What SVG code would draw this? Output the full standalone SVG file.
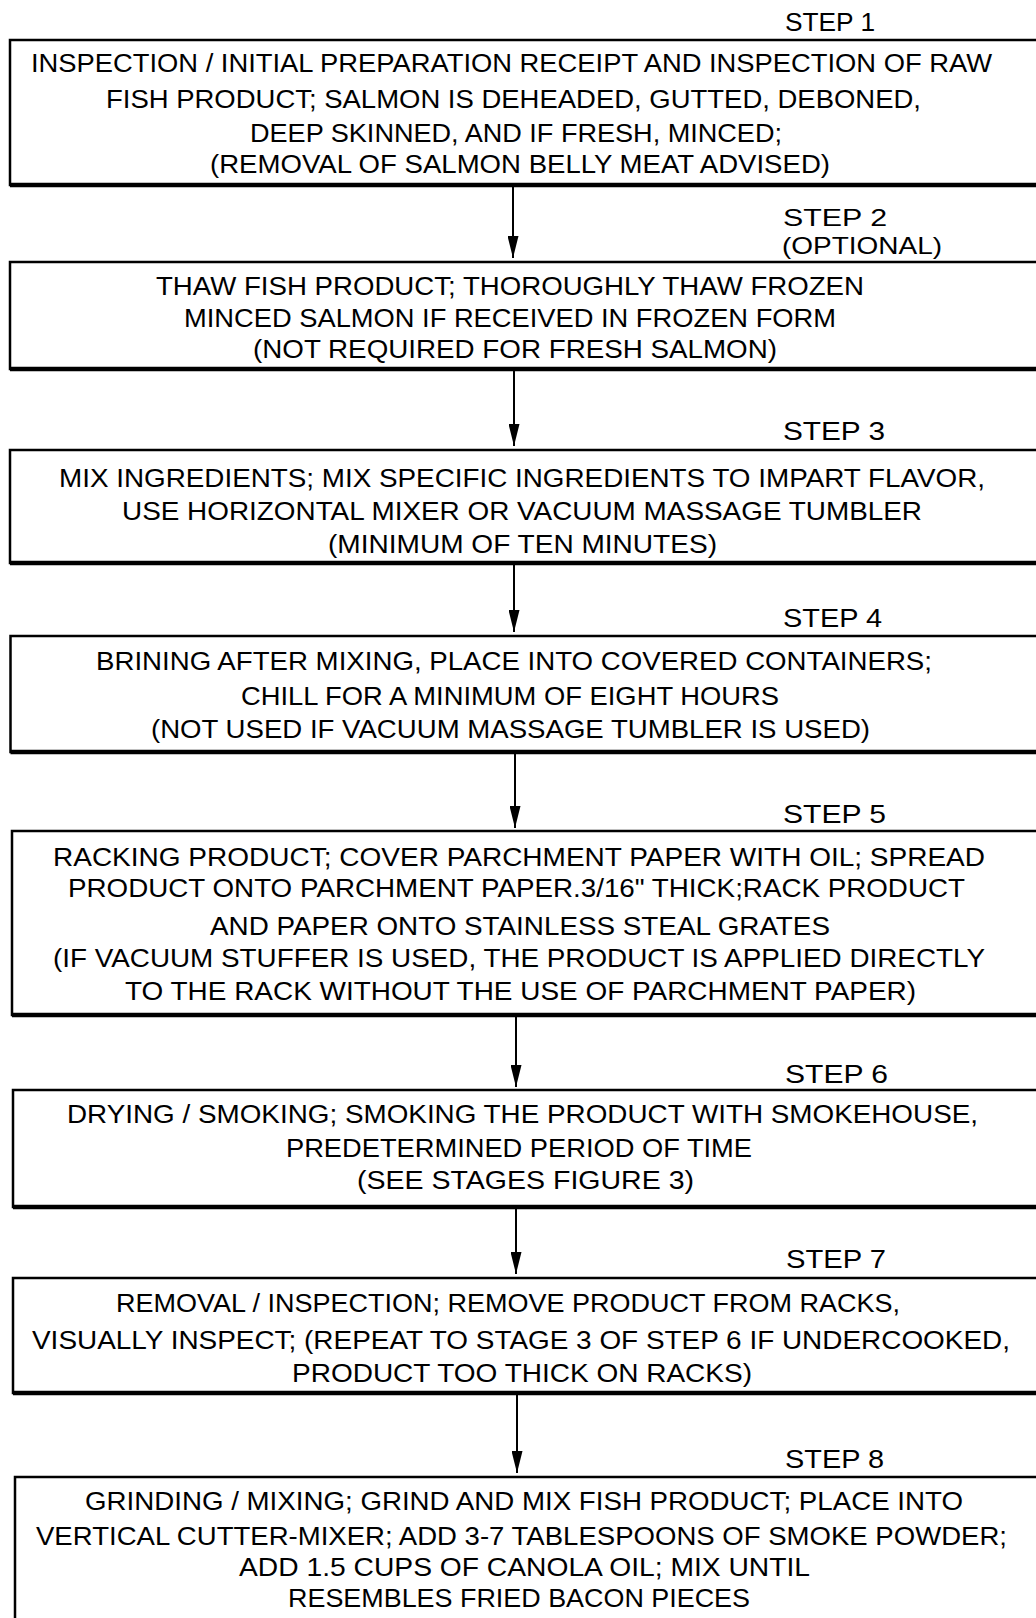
<svg xmlns="http://www.w3.org/2000/svg" width="1036" height="1618" viewBox="0 0 1036 1618">
<style>
.bg{fill:#fff}
.box{fill:#fff;stroke:#000;stroke-width:2.5}
.base{stroke:#000;stroke-width:4.5;fill:none}
.t{font-family:"Liberation Sans",Arial,sans-serif;font-size:25px;fill:#000}
.s{font-family:"Liberation Sans",Arial,sans-serif;font-size:25px;fill:#000}
.s2{font-family:"Liberation Sans",Arial,sans-serif;font-size:24px;fill:#000}
.c{stroke:#000;stroke-width:2;fill:none;marker-end:url(#ah)}
</style>
<defs>
<marker id="ah" viewBox="0 0 22 11" refX="22" refY="5.5" markerWidth="22" markerHeight="11" markerUnits="userSpaceOnUse" orient="auto">
<path d="M0,0 L22,5.5 L0,11 Z" fill="#000"/>
</marker>
</defs>
<rect class="bg" x="0" y="0" width="1036" height="1618"/>

<g id="connectors">
<line class="c" x1="513" y1="187" x2="513" y2="258"/>
<line class="c" x1="514" y1="371" x2="514" y2="446"/>
<line class="c" x1="514" y1="565" x2="514" y2="632"/>
<line class="c" x1="515" y1="754" x2="515" y2="828"/>
<line class="c" x1="516" y1="1017" x2="516" y2="1087"/>
<line class="c" x1="516" y1="1209" x2="516" y2="1274"/>
<line class="c" x1="517" y1="1394" x2="517" y2="1473"/>
</g>

<g id="step1">
<text class="s" x="785" y="31" textLength="90" lengthAdjust="spacingAndGlyphs">STEP 1</text>
<rect class="box" x="10" y="40" width="1040" height="145"/>
<line class="base" x1="10" y1="185" x2="1040" y2="185"/>
<text class="t" x="31" y="72" textLength="961" lengthAdjust="spacingAndGlyphs">INSPECTION / INITIAL PREPARATION RECEIPT AND INSPECTION OF RAW</text>
<text class="t" x="106" y="108" textLength="815" lengthAdjust="spacingAndGlyphs">FISH PRODUCT; SALMON IS DEHEADED, GUTTED, DEBONED,</text>
<text class="t" x="250" y="142" textLength="532" lengthAdjust="spacingAndGlyphs">DEEP SKINNED, AND IF FRESH, MINCED;</text>
<text class="t" x="210" y="173" textLength="620" lengthAdjust="spacingAndGlyphs">(REMOVAL OF SALMON BELLY MEAT ADVISED)</text>
</g>

<g id="step2">
<text class="s2" x="783" y="226" textLength="104" lengthAdjust="spacingAndGlyphs">STEP 2</text>
<text class="s2" x="782" y="254" textLength="160" lengthAdjust="spacingAndGlyphs">(OPTIONAL)</text>
<rect class="box" x="10" y="262" width="1040" height="107"/>
<line class="base" x1="10" y1="369" x2="1040" y2="369"/>
<text class="t" x="156" y="295" textLength="708" lengthAdjust="spacingAndGlyphs">THAW FISH PRODUCT; THOROUGHLY THAW FROZEN</text>
<text class="t" x="184" y="327" textLength="652" lengthAdjust="spacingAndGlyphs">MINCED SALMON IF RECEIVED IN FROZEN FORM</text>
<text class="t" x="253" y="358" textLength="524" lengthAdjust="spacingAndGlyphs">(NOT REQUIRED FOR FRESH SALMON)</text>
</g>

<g id="step3">
<text class="s" x="783" y="440" textLength="102" lengthAdjust="spacingAndGlyphs">STEP 3</text>
<rect class="box" x="10" y="450" width="1040" height="113"/>
<line class="base" x1="10" y1="563" x2="1040" y2="563"/>
<text class="t" x="59" y="487" textLength="926" lengthAdjust="spacingAndGlyphs">MIX INGREDIENTS; MIX SPECIFIC INGREDIENTS TO IMPART FLAVOR,</text>
<text class="t" x="122" y="520" textLength="800" lengthAdjust="spacingAndGlyphs">USE HORIZONTAL MIXER OR VACUUM MASSAGE TUMBLER</text>
<text class="t" x="328" y="553" textLength="389" lengthAdjust="spacingAndGlyphs">(MINIMUM OF TEN MINUTES)</text>
</g>

<g id="step4">
<text class="s" x="783" y="627" textLength="99" lengthAdjust="spacingAndGlyphs">STEP 4</text>
<rect class="box" x="10.5" y="636" width="1040" height="116"/>
<line class="base" x1="10.5" y1="752" x2="1040" y2="752"/>
<text class="t" x="96" y="670" textLength="836" lengthAdjust="spacingAndGlyphs">BRINING AFTER MIXING, PLACE INTO COVERED CONTAINERS;</text>
<text class="t" x="241" y="705" textLength="538" lengthAdjust="spacingAndGlyphs">CHILL FOR A MINIMUM OF EIGHT HOURS</text>
<text class="t" x="151" y="738" textLength="719" lengthAdjust="spacingAndGlyphs">(NOT USED IF VACUUM MASSAGE TUMBLER IS USED)</text>
</g>

<g id="step5">
<text class="s" x="783" y="823" textLength="103" lengthAdjust="spacingAndGlyphs">STEP 5</text>
<rect class="box" x="12" y="831" width="1040" height="184"/>
<line class="base" x1="12" y1="1015" x2="1040" y2="1015"/>
<text class="t" x="53" y="866" textLength="932" lengthAdjust="spacingAndGlyphs">RACKING PRODUCT; COVER PARCHMENT PAPER WITH OIL; SPREAD</text>
<text class="t" x="68" y="897" textLength="897" lengthAdjust="spacingAndGlyphs">PRODUCT ONTO PARCHMENT PAPER.3/16" THICK;RACK PRODUCT</text>
<text class="t" x="210" y="935" textLength="620" lengthAdjust="spacingAndGlyphs">AND PAPER ONTO STAINLESS STEAL GRATES</text>
<text class="t" x="53" y="967" textLength="932" lengthAdjust="spacingAndGlyphs">(IF VACUUM STUFFER IS USED, THE PRODUCT IS APPLIED DIRECTLY</text>
<text class="t" x="125" y="1000" textLength="791" lengthAdjust="spacingAndGlyphs">TO THE RACK WITHOUT THE USE OF PARCHMENT PAPER)</text>
</g>

<g id="step6">
<text class="s" x="785" y="1083" textLength="103" lengthAdjust="spacingAndGlyphs">STEP 6</text>
<rect class="box" x="13" y="1090" width="1040" height="117"/>
<line class="base" x1="13" y1="1207" x2="1040" y2="1207"/>
<text class="t" x="67" y="1123" textLength="911" lengthAdjust="spacingAndGlyphs">DRYING / SMOKING; SMOKING THE PRODUCT WITH SMOKEHOUSE,</text>
<text class="t" x="286" y="1157" textLength="466" lengthAdjust="spacingAndGlyphs">PREDETERMINED PERIOD OF TIME</text>
<text class="t" x="357" y="1189" textLength="337" lengthAdjust="spacingAndGlyphs">(SEE STAGES FIGURE 3)</text>
</g>

<g id="step7">
<text class="s" x="786" y="1268" textLength="100" lengthAdjust="spacingAndGlyphs">STEP 7</text>
<rect class="box" x="13" y="1278" width="1040" height="115"/>
<line class="base" x1="13" y1="1393" x2="1040" y2="1393"/>
<text class="t" x="116" y="1312" textLength="784" lengthAdjust="spacingAndGlyphs">REMOVAL / INSPECTION; REMOVE PRODUCT FROM RACKS,</text>
<text class="t" x="32" y="1349" textLength="978" lengthAdjust="spacingAndGlyphs">VISUALLY INSPECT; (REPEAT TO STAGE 3 OF STEP 6 IF UNDERCOOKED,</text>
<text class="t" x="292" y="1382" textLength="460" lengthAdjust="spacingAndGlyphs">PRODUCT TOO THICK ON RACKS)</text>
</g>

<g id="step8">
<text class="s" x="785" y="1468" textLength="99" lengthAdjust="spacingAndGlyphs">STEP 8</text>
<rect class="box" x="15" y="1477" width="1040" height="160"/>
<text class="t" x="85" y="1510" textLength="878" lengthAdjust="spacingAndGlyphs">GRINDING / MIXING; GRIND AND MIX FISH PRODUCT; PLACE INTO</text>
<text class="t" x="36" y="1545" textLength="971" lengthAdjust="spacingAndGlyphs">VERTICAL CUTTER-MIXER; ADD 3-7 TABLESPOONS OF SMOKE POWDER;</text>
<text class="t" x="239" y="1576" textLength="571" lengthAdjust="spacingAndGlyphs">ADD 1.5 CUPS OF CANOLA OIL; MIX UNTIL</text>
<text class="t" x="288" y="1607" textLength="462" lengthAdjust="spacingAndGlyphs">RESEMBLES FRIED BACON PIECES</text>
</g>
</svg>
